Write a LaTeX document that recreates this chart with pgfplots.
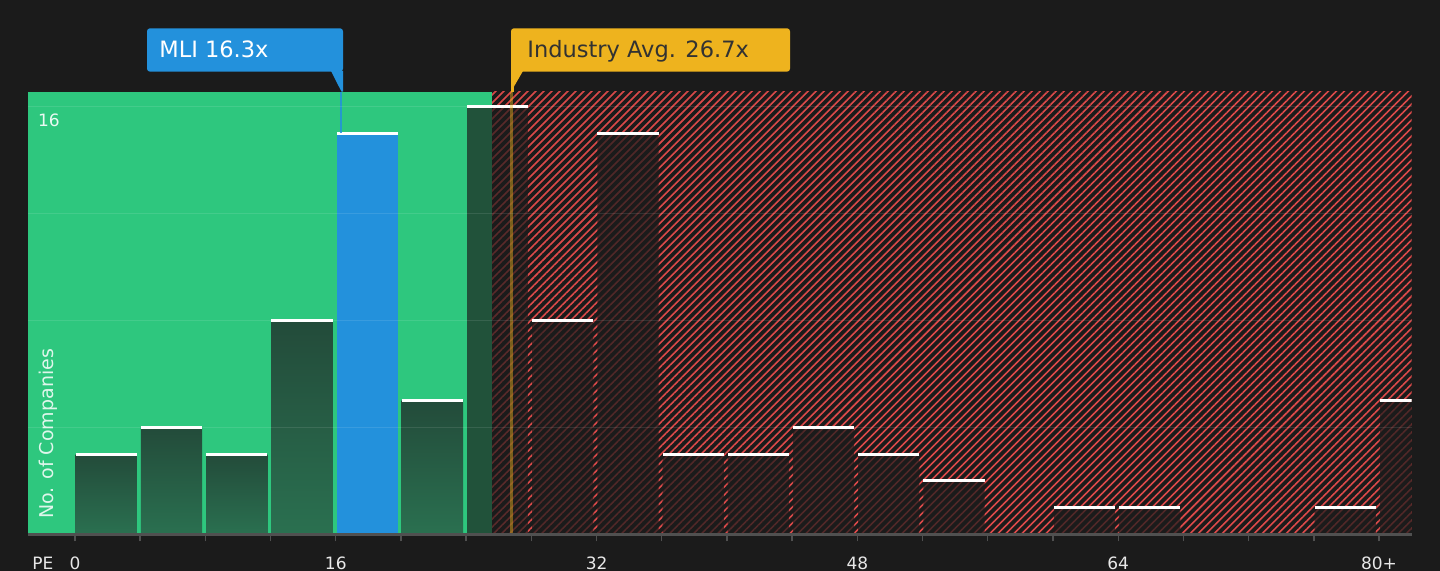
\documentclass[border=0pt]{standalone}
\usepackage{pgfplots}
\pgfplotsset{compat=1.18}
\usepackage{fontspec}
\setmainfont{DejaVu Sans}
\usetikzlibrary{patterns.meta}

\definecolor{bg}{HTML}{1B1B1B}
\definecolor{grn}{HTML}{2EC77E}
\definecolor{blu}{HTML}{2391DC}
\definecolor{gld}{HTML}{EEB31E}
\definecolor{hatchred}{HTML}{DD4A4A}
\definecolor{axgray}{HTML}{505050}
\definecolor{txtgray}{HTML}{E8E8E8}
\definecolor{bartop}{HTML}{234B3A}
\definecolor{barbot}{HTML}{2A7050}

\begin{document}
\begin{tikzpicture}
\fill[bg] (0,0) rectangle (720pt,285.5pt);
\useasboundingbox (0,0) rectangle (720pt,285.5pt);
\begin{axis}[
  at={(14pt,18.35pt)}, anchor=south west,
  scale only axis, width=691.8pt, height=221.3pt,
  xmin=-2.88, xmax=82, ymin=0, ymax=16.55,
  axis on top,
  axis x line*=bottom, axis y line*=left,
  x axis line style={axgray, line width=1.3pt, -},
  y axis line style={draw=none},
  xtick={0,4,...,80},
  xticklabels={0,,,,16,,,,32,,,,48,,,,64,,,,80+},
  tick align=outside, major tick length=3.5pt,
  xtick style={axgray, line width=0.7pt},
  xticklabel style={font=\fontsize{8.5}{10}\selectfont, text=txtgray, anchor=base, yshift=-14pt},
  ytick={4,8,12,16}, yticklabels={}, ytick style={draw=none},
  ymajorgrids, grid style={white, opacity=0.1, line width=0.5pt},
  /pgf/number format/assume math mode=true,
  clip=true, clip marker paths=true,
  greenbar/.style={ybar, bar width=3.76, bar shift=-0.6pt, draw=none, top color=bartop, bottom color=barbot},
]
% background regions
\addplot[draw=none, fill=grn] coordinates {(-2.88,16.55) (25.6,16.55)} \closedcycle;
\addplot[draw=none, pattern={Lines[angle=45, distance=2.83pt, line width=0.8pt]}, pattern color=hatchred]
  coordinates {(25.6,16.55) (82,16.55)} \closedcycle;
% bars in the green region
\addplot[greenbar] coordinates {(2,3)};
\addplot[greenbar] coordinates {(6,4)};
\addplot[greenbar] coordinates {(10,3)};
\addplot[greenbar] coordinates {(14,8)};
\addplot[greenbar] coordinates {(22,5)};
% MLI bar
\addplot[ybar, bar width=3.76, bar shift=-0.6pt, draw=none, fill=blu]
  coordinates {(18,15)};
% bars over the boundary and the red region
\addplot[ybar, bar width=3.76, bar shift=-0.6pt, draw=none, fill=bg, fill opacity=0.68]
  coordinates {(26,16)};
\addplot[ybar, bar width=3.76, bar shift=-0.6pt, draw=none, fill=bg, fill opacity=0.72]
  coordinates {(30,8) (34,15) (38,3) (42,3) (46,4) (50,3) (54,2) (62,1) (66,1) (78,1) (82,5)};
% caps
\addplot[only marks, mark=-, mark size=15.32pt, mark options={white, line width=1.5pt, xshift=-0.6pt}]
  coordinates {(2,3) (6,4) (10,3) (14,8) (18,15) (22,5) (26,16) (30,8) (34,15) (38,3) (42,3) (46,4) (50,3) (54,2) (62,1) (66,1) (78,1) (82,5)};
% industry average line
\addplot[gld, opacity=0.45, line width=1.6pt] coordinates {(26.8,0) (26.8,16.55)};
% MLI line
\addplot[blu, opacity=0.85, line width=1pt] coordinates {(16.35,15) (16.35,16.55)};
\end{axis}
% callouts
\fill[blu, rounded corners=1.5pt] (73.5pt,249.65pt) rectangle (171.5pt,271.35pt);
\fill[blu] (165.5pt,250pt) -- (171.5pt,250pt) -- (171.5pt,239.65pt) -- (170.75pt,239.65pt) -- cycle;
\node[anchor=base west, inner sep=0pt, text=white, font=\fontsize{11.25}{13}\selectfont] at (79.5pt,256.65pt) {MLI 16.3x};
\fill[gld, rounded corners=1.5pt] (255.5pt,249.65pt) rectangle (395pt,271.35pt);
\fill[gld] (255.5pt,250pt) -- (261.5pt,250pt) -- (255.5pt,239.65pt) -- cycle;
\fill[gld] (255.5pt,239.65pt) rectangle (257pt,251pt);
\node[anchor=base west, inner sep=0pt, text=bg!90!white, font=\fontsize{11.25}{13}\selectfont] at (263.5pt,256.65pt) {Industry Avg. 26.7x};
% axis texts
\node[anchor=base west, inner sep=0pt, text=txtgray, font=\fontsize{8.5}{10}\selectfont] at (16pt,0.85pt) {PE};
\node[inner sep=0pt, text=white, opacity=0.9, font=\fontsize{8.5}{10}\selectfont] at (24.5pt,225.25pt) {16};
\node[rotate=90, inner sep=0pt, text=white, opacity=0.85, font=\fontsize{9.5}{11}\selectfont] at (24pt,68.5pt) {No. of Companies};
\end{tikzpicture}
\end{document}
